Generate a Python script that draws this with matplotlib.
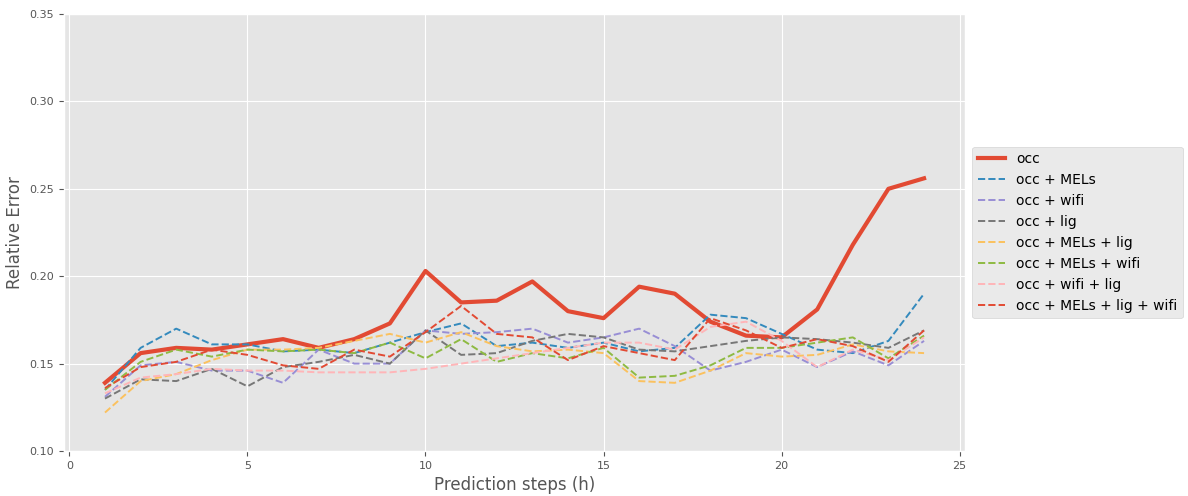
import matplotlib
matplotlib.use("Agg")
import matplotlib.pyplot as plt
import numpy as np

plt.style.use('ggplot')

steps = np.arange(1, 25)

occ = [0.139, 0.156, 0.159, 0.158, 0.161, 0.164, 0.159, 0.164, 0.173, 0.203,
       0.185, 0.186, 0.197, 0.180, 0.176, 0.194, 0.190, 0.174, 0.166, 0.165,
       0.181, 0.218, 0.250, 0.256]
occ_mels = [0.135, 0.159, 0.170, 0.161, 0.161, 0.157, 0.158, 0.156, 0.162, 0.168,
            0.173, 0.160, 0.162, 0.159, 0.162, 0.157, 0.159, 0.178, 0.176, 0.167,
            0.158, 0.156, 0.163, 0.190]
occ_wifi = [0.131, 0.149, 0.151, 0.146, 0.146, 0.139, 0.158, 0.150, 0.150, 0.169,
            0.167, 0.168, 0.170, 0.162, 0.165, 0.170, 0.160, 0.146, 0.151, 0.158,
            0.148, 0.157, 0.149, 0.163]
occ_lig = [0.130, 0.141, 0.140, 0.147, 0.137, 0.148, 0.151, 0.155, 0.150, 0.169,
           0.155, 0.156, 0.163, 0.167, 0.165, 0.158, 0.157, 0.160, 0.163, 0.165,
           0.164, 0.162, 0.159, 0.169]
occ_mels_lig = [0.122, 0.140, 0.144, 0.152, 0.158, 0.158, 0.159, 0.163, 0.167, 0.162,
                0.168, 0.160, 0.157, 0.158, 0.156, 0.140, 0.139, 0.146, 0.156, 0.154,
                0.155, 0.161, 0.157, 0.156]
occ_mels_wifi = [0.135, 0.151, 0.158, 0.154, 0.158, 0.157, 0.158, 0.156, 0.162, 0.153,
                 0.164, 0.151, 0.156, 0.153, 0.159, 0.142, 0.143, 0.149, 0.159, 0.159,
                 0.162, 0.165, 0.153, 0.166]
occ_wifi_lig = [0.133, 0.142, 0.144, 0.147, 0.146, 0.146, 0.145, 0.145, 0.145, 0.147,
                0.150, 0.153, 0.156, 0.159, 0.162, 0.162, 0.158, 0.171, 0.174, 0.163,
                0.148, 0.158, 0.152, 0.165]
occ_all = [0.136, 0.148, 0.151, 0.158, 0.155, 0.149, 0.147, 0.158, 0.154, 0.168,
           0.183, 0.167, 0.165, 0.152, 0.160, 0.156, 0.152, 0.176, 0.169, 0.159,
           0.164, 0.160, 0.151, 0.169]

labels = ['occ', 'occ + MELs', 'occ + wifi', 'occ + lig', 'occ + MELs + lig',
          'occ + MELs + wifi', 'occ + wifi + lig', 'occ + MELs + lig + wifi']

fig = plt.figure(figsize=(11.88, 4.96), dpi=100)
ax = fig.add_axes([0.0539, 0.0907, 0.7584, 0.8811])

ax.plot(steps, occ, linewidth=3, label=labels[0])
series = [occ_mels, occ_wifi, occ_lig, occ_mels_lig, occ_mels_wifi, occ_wifi_lig, occ_all]
for s, lab in zip(series, labels[1:]):
    ax.plot(steps, s, '--', linewidth=1.4, label=lab)

ax.set_ylim(0.10, 0.35)
ax.set_xlabel('Prediction steps (h)', fontsize=12)
ax.set_ylabel('Relative Error', fontsize=12)
ax.tick_params(labelsize=8)
ax.legend(loc='center left', bbox_to_anchor=(1.0, 0.5), fontsize=10)

plt.savefig('out.png', dpi=100)
